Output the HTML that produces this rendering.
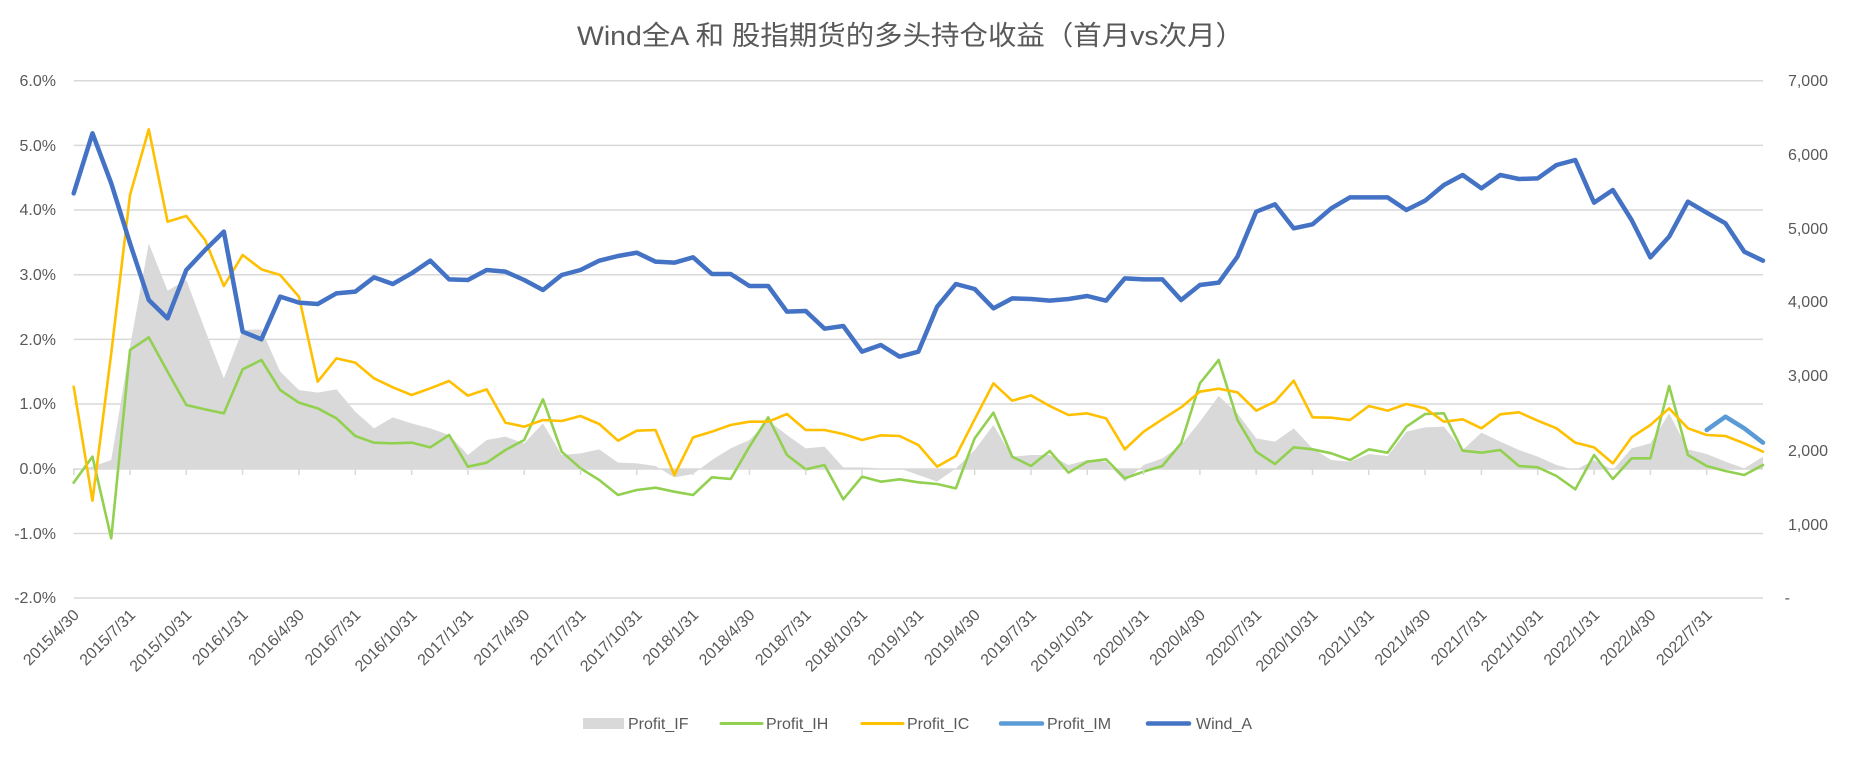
<!DOCTYPE html>
<html><head><meta charset="utf-8"><style>
html,body{margin:0;padding:0;background:#fff;}
svg{display:block;font-family:"Liberation Sans","Noto Sans CJK SC",sans-serif;}
</style></head><body>
<svg width="1864" height="760" viewBox="0 0 1864 760" xmlns="http://www.w3.org/2000/svg">
<rect width="1864" height="760" fill="#fff"/>
<text x="577" y="45" font-size="27" fill="#595959" textLength="667" lengthAdjust="spacingAndGlyphs">Wind全A 和 股指期货的多头持仓收益（首月vs次月）</text>
<g stroke="#D9D9D9" stroke-width="1.5">
<line x1="73.7" x2="1763" y1="80.7" y2="80.7"/>
<line x1="73.7" x2="1763" y1="145.4" y2="145.4"/>
<line x1="73.7" x2="1763" y1="210" y2="210"/>
<line x1="73.7" x2="1763" y1="274.7" y2="274.7"/>
<line x1="73.7" x2="1763" y1="339.4" y2="339.4"/>
<line x1="73.7" x2="1763" y1="404" y2="404"/>
<line x1="73.7" x2="1763" y1="469" y2="469"/>
<line x1="73.7" x2="1763" y1="533.5" y2="533.5"/>
<line x1="73.7" x2="1763" y1="598" y2="598"/>
</g>
<g font-size="16" fill="#595959" text-anchor="end">
<text x="56" y="86">6.0%</text><text x="56" y="151">5.0%</text><text x="56" y="215">4.0%</text>
<text x="56" y="280">3.0%</text><text x="56" y="345">2.0%</text><text x="56" y="409">1.0%</text>
<text x="56" y="474">0.0%</text><text x="56" y="539">-1.0%</text><text x="56" y="603">-2.0%</text>
<text x="1828" y="86">7,000</text><text x="1828" y="160">6,000</text><text x="1828" y="234">5,000</text>
<text x="1828" y="307">4,000</text><text x="1828" y="381">3,000</text><text x="1828" y="456">2,000</text>
<text x="1828" y="530">1,000</text><text x="1790" y="603">-</text>
</g>
<g transform="translate(73.7,80) scale(18.77,0.333333)">
<polygon fill="#D9D9D9" points="0,1167 0,1172 1,1160 2,1140 3,800 4,490 5,632 6,600 7,750 8,895 9,750 10,748 11,875 12,930 13,938 14,928 15,995 16,1045 17,1012 18,1030 19,1045 20,1065 21,1125 22,1080 23,1070 24,1090 25,1030 26,1125 27,1120 28,1108 29,1148 30,1150 31,1158 32,1192 33,1182 34,1140 35,1105 36,1080 37,1022 38,1065 39,1105 40,1100 41,1162 42,1162 43,1165 44,1165 45,1185 46,1205 47,1165 48,1110 49,1035 50,1130 51,1125 52,1125 53,1155 54,1140 55,1145 56,1205 57,1155 58,1135 59,1095 60,1025 61,948 62,1000 63,1075 64,1085 65,1045 66,1105 67,1140 68,1145 69,1122 70,1128 71,1055 72,1042 73,1040 74,1110 75,1058 76,1085 77,1110 78,1130 79,1155 80,1170 81,1140 82,1170 83,1105 84,1090 85,1000 86,1108 87,1122 88,1145 89,1165 90,1130 90,1167"/>
<g fill="none" stroke-linejoin="round" stroke-linecap="round">
<polyline vector-effect="non-scaling-stroke" stroke="#92D050" stroke-width="2.6" points="0,1208 1,1130 2,1375 3,810 4,772 5,875 6,975 7,988 8,1000 9,868 10,840 11,930 12,968 13,985 14,1015 15,1068 16,1088 17,1090 18,1088 19,1102 20,1065 21,1160 22,1148 23,1110 24,1080 25,958 26,1115 27,1165 28,1200 29,1245 30,1230 31,1223 32,1235 33,1245 34,1192 35,1197 36,1100 37,1012 38,1125 39,1168 40,1155 41,1258 42,1190 43,1205 44,1198 45,1207 46,1212 47,1225 48,1075 49,998 50,1130 51,1158 52,1113 53,1178 54,1145 55,1138 56,1195 57,1175 58,1158 59,1090 60,910 61,840 62,1020 63,1115 64,1152 65,1102 66,1108 67,1120 68,1140 69,1108 70,1118 71,1040 72,1002 73,1000 74,1112 75,1118 76,1110 77,1158 78,1162 79,1188 80,1228 81,1125 82,1197 83,1135 84,1135 85,918 86,1125 87,1158 88,1173 89,1185 90,1155"/>
<polyline vector-effect="non-scaling-stroke" stroke="#FFC000" stroke-width="2.6" points="0,920 1,1262 2,820 3,345 4,148 5,425 6,408 7,480 8,618 9,525 10,568 11,585 12,650 13,905 14,835 15,848 16,895 17,922 18,945 19,925 20,903 21,947 22,928 23,1028 24,1040 25,1020 26,1023 27,1008 28,1032 29,1082 30,1052 31,1050 32,1185 33,1072 34,1055 35,1035 36,1025 37,1025 38,1002 39,1050 40,1050 41,1062 42,1080 43,1066 44,1068 45,1095 46,1160 47,1128 48,1018 49,910 50,962 51,946 52,978 53,1005 54,1000 55,1015 56,1108 57,1055 58,1018 59,982 60,935 61,926 62,937 63,992 64,965 65,902 66,1012 67,1013 68,1020 69,978 70,992 71,972 72,985 73,1025 74,1018 75,1045 76,1003 77,997 78,1022 79,1045 80,1088 81,1102 82,1150 83,1072 84,1035 85,985 86,1045 87,1065 88,1068 89,1090 90,1115"/>
<polyline vector-effect="non-scaling-stroke" stroke="#5B9BD5" stroke-width="4.5" points="87,1050 88,1010 89,1045 90,1088"/>
<polyline vector-effect="non-scaling-stroke" stroke="#4472C4" stroke-width="4.5" points="0,340 1,160 2,310 3,490 4,660 5,715 6,570 7,510 8,455 9,755 10,778 11,650 12,668 13,672 14,640 15,635 16,592 17,612 18,580 19,542 20,598 21,600 22,570 23,575 24,600 25,630 26,585 27,570 28,542 29,528 30,518 31,545 32,548 33,532 34,582 35,582 36,618 37,618 38,695 39,693 40,746 41,738 42,815 43,795 44,830 45,815 46,680 47,612 48,627 49,685 50,655 51,657 52,662 53,657 54,648 55,662 56,595 57,598 58,598 59,660 60,615 61,608 62,530 63,395 64,373 65,445 66,433 67,385 68,352 69,352 70,352 71,390 72,362 73,315 74,285 75,325 76,285 77,297 78,295 79,255 80,240 81,368 82,330 83,420 84,532 85,470 86,365 87,398 88,430 89,515 90,542"/>
</g>
</g>
<g stroke="#D9D9D9" stroke-width="1.5">
<line x1="73.7" x2="73.7" y1="469" y2="475"/><line x1="130" x2="130" y1="469" y2="475"/><line x1="186.3" x2="186.3" y1="469" y2="475"/><line x1="242.6" x2="242.6" y1="469" y2="475"/><line x1="298.9" x2="298.9" y1="469" y2="475"/><line x1="355.3" x2="355.3" y1="469" y2="475"/><line x1="411.6" x2="411.6" y1="469" y2="475"/><line x1="467.9" x2="467.9" y1="469" y2="475"/><line x1="524.2" x2="524.2" y1="469" y2="475"/><line x1="580.5" x2="580.5" y1="469" y2="475"/><line x1="636.8" x2="636.8" y1="469" y2="475"/><line x1="693.1" x2="693.1" y1="469" y2="475"/><line x1="749.4" x2="749.4" y1="469" y2="475"/><line x1="805.7" x2="805.7" y1="469" y2="475"/><line x1="862" x2="862" y1="469" y2="475"/><line x1="918.3" x2="918.3" y1="469" y2="475"/><line x1="974.7" x2="974.7" y1="469" y2="475"/><line x1="1031" x2="1031" y1="469" y2="475"/><line x1="1087.3" x2="1087.3" y1="469" y2="475"/><line x1="1143.6" x2="1143.6" y1="469" y2="475"/><line x1="1199.9" x2="1199.9" y1="469" y2="475"/><line x1="1256.2" x2="1256.2" y1="469" y2="475"/><line x1="1312.5" x2="1312.5" y1="469" y2="475"/><line x1="1368.8" x2="1368.8" y1="469" y2="475"/><line x1="1425.1" x2="1425.1" y1="469" y2="475"/><line x1="1481.4" x2="1481.4" y1="469" y2="475"/><line x1="1537.7" x2="1537.7" y1="469" y2="475"/><line x1="1594.1" x2="1594.1" y1="469" y2="475"/><line x1="1650.4" x2="1650.4" y1="469" y2="475"/><line x1="1706.7" x2="1706.7" y1="469" y2="475"/>
</g>
<g font-size="16" fill="#595959" text-anchor="end">
<text transform="translate(80,616) rotate(-45)">2015/4/30</text>
<text transform="translate(136.3,616) rotate(-45)">2015/7/31</text>
<text transform="translate(192.6,616) rotate(-45)">2015/10/31</text>
<text transform="translate(248.9,616) rotate(-45)">2016/1/31</text>
<text transform="translate(305.2,616) rotate(-45)">2016/4/30</text>
<text transform="translate(361.6,616) rotate(-45)">2016/7/31</text>
<text transform="translate(417.9,616) rotate(-45)">2016/10/31</text>
<text transform="translate(474.2,616) rotate(-45)">2017/1/31</text>
<text transform="translate(530.5,616) rotate(-45)">2017/4/30</text>
<text transform="translate(586.8,616) rotate(-45)">2017/7/31</text>
<text transform="translate(643.1,616) rotate(-45)">2017/10/31</text>
<text transform="translate(699.4,616) rotate(-45)">2018/1/31</text>
<text transform="translate(755.7,616) rotate(-45)">2018/4/30</text>
<text transform="translate(812,616) rotate(-45)">2018/7/31</text>
<text transform="translate(868.3,616) rotate(-45)">2018/10/31</text>
<text transform="translate(924.6,616) rotate(-45)">2019/1/31</text>
<text transform="translate(981,616) rotate(-45)">2019/4/30</text>
<text transform="translate(1037.3,616) rotate(-45)">2019/7/31</text>
<text transform="translate(1093.6,616) rotate(-45)">2019/10/31</text>
<text transform="translate(1149.9,616) rotate(-45)">2020/1/31</text>
<text transform="translate(1206.2,616) rotate(-45)">2020/4/30</text>
<text transform="translate(1262.5,616) rotate(-45)">2020/7/31</text>
<text transform="translate(1318.8,616) rotate(-45)">2020/10/31</text>
<text transform="translate(1375.1,616) rotate(-45)">2021/1/31</text>
<text transform="translate(1431.4,616) rotate(-45)">2021/4/30</text>
<text transform="translate(1487.7,616) rotate(-45)">2021/7/31</text>
<text transform="translate(1544,616) rotate(-45)">2021/10/31</text>
<text transform="translate(1600.4,616) rotate(-45)">2022/1/31</text>
<text transform="translate(1656.7,616) rotate(-45)">2022/4/30</text>
<text transform="translate(1713,616) rotate(-45)">2022/7/31</text>
</g>
<g font-size="16" fill="#595959">
<rect x="583" y="718" width="41" height="11" fill="#D9D9D9"/>
<text x="628" y="729">Profit_IF</text>
<line x1="721" x2="762" y1="723.5" y2="723.5" stroke="#92D050" stroke-width="3" stroke-linecap="round"/>
<text x="766" y="729">Profit_IH</text>
<line x1="862" x2="903" y1="723.5" y2="723.5" stroke="#FFC000" stroke-width="3" stroke-linecap="round"/>
<text x="907" y="729">Profit_IC</text>
<line x1="1001" x2="1042" y1="723.5" y2="723.5" stroke="#5B9BD5" stroke-width="4.5" stroke-linecap="round"/>
<text x="1047" y="729">Profit_IM</text>
<line x1="1148" x2="1189" y1="723.5" y2="723.5" stroke="#4472C4" stroke-width="4.5" stroke-linecap="round"/>
<text x="1196" y="729">Wind_A</text>
</g>
</svg>
</body></html>
